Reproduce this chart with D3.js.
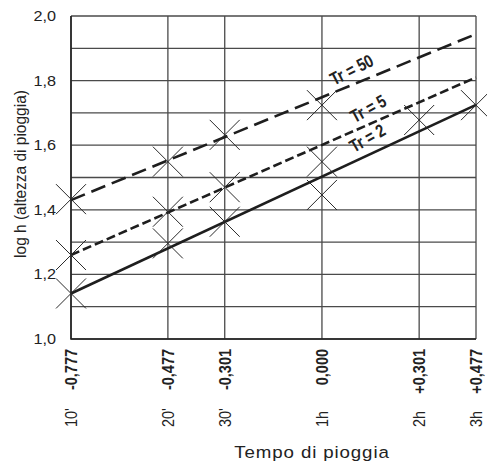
<!DOCTYPE html>
<html>
<head>
<meta charset="utf-8">
<script src="https://cdn.jsdelivr.net/npm/d3@7"></script>
<style>
  body { margin: 0; background: #fff; }
  svg text { font-family: "Liberation Sans", Arial, sans-serif; fill: #222; }
</style>
</head>
<body>
<svg id="chart" width="487" height="464"></svg>
<script>
  // ------------------------------------------------------------
  // Data
  // ------------------------------------------------------------
  const logT = [-0.777, -0.477, -0.301, 0.000, 0.301, 0.477];
  const logTLabels = ["-0,777", "-0,477", "-0,301", "0,000", "+0,301", "+0,477"];
  const timeLabels = ["10'", "20'", "30'", "1h", "2h", "3h"];
  const yTicks = [1.0, 1.2, 1.4, 1.6, 1.8, 2.0];
  const yGrid = [1.0, 1.1, 1.2, 1.3, 1.4, 1.5, 1.6, 1.7, 1.8, 1.9, 2.0];

  // measured points (log h)
  const pointsTr50 = [1.433, 1.549, 1.632, 1.724];
  const pointsTr5 = [1.260, 1.394, 1.470, 1.549];
  const pointsTr2 = [1.141, 1.296, 1.363, 1.446, 1.678, 1.724];

  // fitted lines: value at first and last log t
  const lineTr50 = [1.430, 1.944];
  const lineTr5 = [1.260, 1.810];
  const lineTr2 = [1.141, 1.725];

  // ------------------------------------------------------------
  // Scales
  // ------------------------------------------------------------
  const svg = d3.select("#chart");
  const x = d3.scaleLinear().domain([-0.777, 0.477]).range([71, 476]);
  const y = d3.scaleLinear().domain([1, 2]).range([339, 16]);
  const fmt = v => d3.format(".1f")(v).replace(".", ",");

  // grid
  svg.append("g").selectAll("line").data(yGrid).join("line")
    .attr("x1", x.range()[0]).attr("x2", x.range()[1])
    .attr("y1", d => y(d)).attr("y2", d => y(d))
    .attr("stroke", "#4a4a4a").attr("stroke-width", 1.3);

  svg.append("g").selectAll("line").data(logT).join("line")
    .attr("x1", d => x(d)).attr("x2", d => x(d))
    .attr("y1", y(1)).attr("y2", y(2))
    .attr("stroke", "#4a4a4a").attr("stroke-width", 1.3);

  // left + bottom axis
  svg.append("path")
    .attr("d", `M${x(-0.777)},${y(2)}V${y(1)}H${x(0.477)}`)
    .attr("fill", "none").attr("stroke", "#222").attr("stroke-width", 1.6);

  // y tick labels
  svg.append("g").selectAll("text").data(yTicks).join("text")
    .attr("transform", d => `translate(56,${y(d) + 5}) scale(1.12,1)`)
    .attr("text-anchor", "end")
    .attr("font-size", 14.5)
    .text(fmt);

  // x tick labels (log values, bold) and time labels
  svg.append("g").selectAll("text").data(logT).join("text")
    .attr("transform", d => `translate(${x(d) + 6},349) scale(1.12,1) rotate(-90)`)
    .attr("text-anchor", "end")
    .attr("font-size", 14.5)
    .attr("font-weight", "bold")
    .text((d, i) => logTLabels[i]);

  svg.append("g").selectAll("text").data(logT).join("text")
    .attr("transform", d => `translate(${x(d) + 6},427) scale(1.12,1) rotate(-90)`)
    .attr("text-anchor", "start")
    .attr("font-size", 14.5)
    .text((d, i) => timeLabels[i]);

  // axis titles
  svg.append("text")
    .attr("transform", "translate(312,458) scale(1.1,1)")
    .attr("text-anchor", "middle")
    .attr("font-size", 17)
    .attr("letter-spacing", 0.8)
    .text("Tempo di pioggia");

  svg.append("text")
    .attr("transform", "translate(26,174) scale(1.12,1) rotate(-90)")
    .attr("text-anchor", "middle")
    .attr("font-size", 15.5)
    .text("log h (altezza di pioggia)");

  // ------------------------------------------------------------
  // Lines
  // ------------------------------------------------------------
  const xEnds = [logT[0], logT[logT.length - 1]];
  const series = [
    { name: "Tr = 50", ends: lineTr50, dash: "15,7", at: 0.112, off: -8 },
    { name: "Tr = 5", ends: lineTr5, dash: "9,4", at: 0.165, off: -8.5 },
    { name: "Tr = 2", ends: lineTr2, dash: null, at: 0.165, off: -9.5 },
  ];

  series.forEach(s => {
    svg.append("line")
      .attr("x1", x(xEnds[0])).attr("y1", y(s.ends[0]))
      .attr("x2", x(xEnds[1])).attr("y2", y(s.ends[1]))
      .attr("stroke", "#1e1e1e").attr("stroke-width", 2.6)
      .attr("stroke-dasharray", s.dash);

    const t = (s.at - xEnds[0]) / (xEnds[1] - xEnds[0]);
    const v = s.ends[0] + t * (s.ends[1] - s.ends[0]);
    const angle = Math.atan2(y(s.ends[1]) - y(s.ends[0]), x(xEnds[1]) - x(xEnds[0])) * 180 / Math.PI;
    svg.append("text")
      .attr("transform", `translate(${x(s.at)},${y(v)}) rotate(${angle - 5}) translate(0,${s.off}) scale(0.8,1)`)
      .attr("text-anchor", "middle")
      .attr("font-size", 18)
      .attr("font-weight", "bold")
      .text(s.name);
  });

  // ------------------------------------------------------------
  // X markers
  // ------------------------------------------------------------
  const allPoints = [pointsTr50, pointsTr5, pointsTr2]
    .flatMap(arr => arr.map((v, i) => ({ t: logT[i], v })));
  const r = 15;
  svg.append("g").selectAll("path").data(allPoints).join("path")
    .attr("d", d => {
      const cx = x(d.t), cy = y(d.v);
      return `M${cx - r},${cy - r}L${cx + r},${cy + r}M${cx - r},${cy + r}L${cx + r},${cy - r}`;
    })
    .attr("fill", "none").attr("stroke", "#2a2a2a").attr("stroke-width", 1);
</script>
</body>
</html>
